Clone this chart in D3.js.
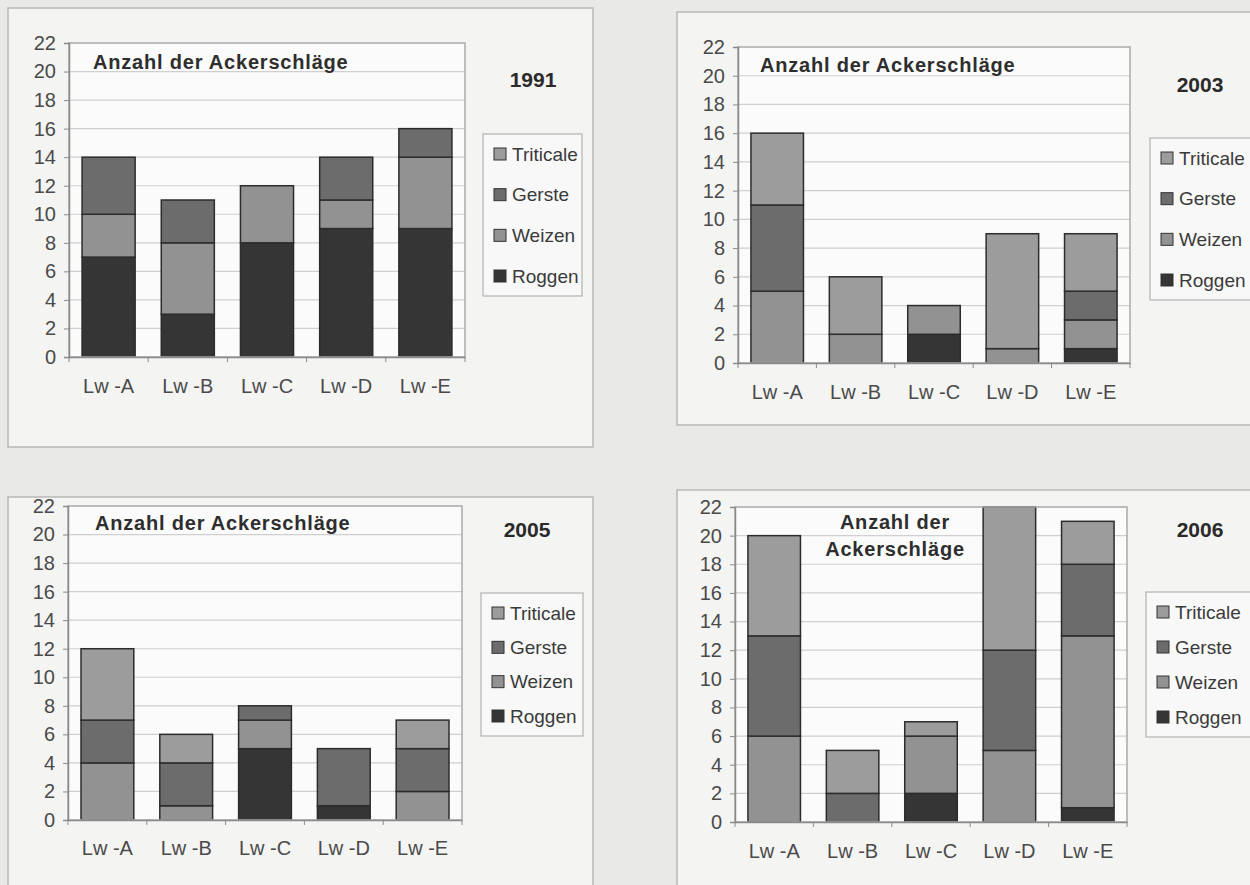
<!DOCTYPE html>
<html>
<head>
<meta charset="utf-8">
<script src="https://cdn.jsdelivr.net/npm/d3@7"></script>
<style>
  body { margin:0; background:#e9e9e7; }
  svg { display:block; font-family:"Liberation Sans", Arial, sans-serif; }
</style>
</head>
<body>
<svg id="chart" width="1250" height="885"></svg>
<script>
// Betriebe und Fruchtarten
var categories = ["Lw-A","Lw-B","Lw-C","Lw-D","Lw-E"];
var crops = ["Roggen","Weizen","Gerste","Triticale"];
var years = ["1991","2003","2005","2006"];
var yTicks = [0,2,4,6,8,10,12,14,16,18,20,22];

// Anzahl der Ackerschläge je Fruchtart (Reihen in Reihenfolge von crops)
var v1991 = [[7,3,8,9,9],[3,5,4,2,5],[4,3,0,3,2],[0,0,0,0,0]];
var v2003 = [[0,0,2,0,1],[5,2,2,1,2],[6,0,0,0,2],[5,4,0,8,4]];
var v2005 = [[0,0,5,1,0],[4,1,2,0,2],[3,3,1,4,3],[5,2,0,0,2]];
var v2006 = [[0,0,2,0,1],[6,0,4,5,12],[7,2,0,7,5],[7,3,1,10,3]];

var cropColor = {Roggen:"#353535", Weizen:"#929292", Gerste:"#6c6c6c", Triticale:"#9c9c9c"};

var svg = d3.select("#chart");

// Layout der vier Diagramme
var panels = [
  {vals:v1991, year:"1991", frame:[8,8,585,439], plot:[69,465,43,357], xlab:386,
   title:["Anzahl der Ackerschläge"], tx:93, ty:62, anchor:"start", yx:533, yy:80, leg:[483,134,99,162]},
  {vals:v2003, year:"2003", frame:[677,12,590,413], plot:[738,1130,47,363], xlab:392,
   title:["Anzahl der Ackerschläge"], tx:760, ty:65, anchor:"start", yx:1200, yy:85, leg:[1150,138,110,162]},
  {vals:v2005, year:"2005", frame:[8,497,585,400], plot:[68,462,506,820], xlab:848,
   title:["Anzahl der Ackerschläge"], tx:95, ty:523, anchor:"start", yx:527, yy:530, leg:[481,593,102,143]},
  {vals:v2006, year:"2006", frame:[677,490,590,400], plot:[735,1127,507,822], xlab:851,
   title:["Anzahl der","Ackerschläge"], tx:895, ty:522, anchor:"middle", yx:1200, yy:530, leg:[1146,592,110,145]}
];

panels.forEach(drawPanel);

function drawPanel(p){
  var g = svg.append("g");
  var L=p.plot[0], R=p.plot[1], T=p.plot[2], B=p.plot[3];

  g.append("rect")
    .attr("x",p.frame[0]).attr("y",p.frame[1])
    .attr("width",p.frame[2]).attr("height",p.frame[3])
    .attr("fill","#f4f4f3").attr("stroke","#b8b8b8").attr("stroke-width",1.5);

  var x = d3.scaleBand().domain(categories).range([L,R]).paddingInner(0.33).paddingOuter(0.165);
  var y = d3.scaleLinear().domain([0,22]).range([B,T]);

  // Zeichenfläche
  g.append("rect").attr("x",L).attr("y",T).attr("width",R-L).attr("height",B-T)
    .attr("fill","#fbfbfb");

  g.append("g").selectAll("line").data(yTicks.slice(1,-1)).enter().append("line")
    .attr("x1",L).attr("x2",R)
    .attr("y1",function(d){return y(d);}).attr("y2",function(d){return y(d);})
    .attr("stroke","#cfcfcf").attr("stroke-width",1.2);

  // gestapelte Balken
  var rows = categories.map(function(c,i){
    var r = {cat:c};
    crops.forEach(function(k,j){ r[k]=p.vals[j][i]; });
    return r;
  });
  var stack = d3.stack().keys(crops)(rows);

  g.append("g").selectAll("g").data(stack).enter().append("g")
    .attr("fill",function(d){return cropColor[d.key];})
    .selectAll("rect").data(function(d){return d.filter(function(s){return s[1]>s[0];});})
    .enter().append("rect")
    .attr("x",function(d){return x(d.data.cat);})
    .attr("y",function(d){return y(d[1]);})
    .attr("width",x.bandwidth())
    .attr("height",function(d){return y(d[0])-y(d[1]);})
    .attr("stroke","#2c2c2c").attr("stroke-width",1.5);

  g.append("rect").attr("x",L).attr("y",T).attr("width",R-L).attr("height",B-T)
    .attr("fill","none").attr("stroke","#a9a9a9").attr("stroke-width",1.5);

  // Achsen
  var ya = g.append("g").attr("transform","translate("+L+",0)")
    .call(d3.axisLeft(y).tickValues(yTicks).tickSize(5).tickPadding(8));
  var xa = g.append("g").attr("transform","translate(0,"+B+")")
    .call(d3.axisBottom(x).tickSize(0));
  [ya,xa].forEach(function(a){
    a.select(".domain").attr("stroke","#8a8a8a").attr("stroke-width",1.5);
    a.selectAll(".tick line").attr("stroke","#8a8a8a");
    a.selectAll("text").attr("fill","#4a4a4a").style("font-size","20px")
      .style("font-family","'Liberation Sans', Arial, sans-serif");
  });
  xa.selectAll(".tick text").attr("dy","0.35em").attr("y",p.xlab-B)
    .style("font-size","20px")
    .text(function(d){return d.replace("-"," -");});

  // Trennstriche zwischen den Kategorien
  g.append("g").selectAll("line").data(d3.range(categories.length+1)).enter().append("line")
    .attr("x1",function(i){return L+i*(R-L)/categories.length;})
    .attr("x2",function(i){return L+i*(R-L)/categories.length;})
    .attr("y1",B).attr("y2",B+5).attr("stroke","#8a8a8a");

  // Titel
  g.append("text").attr("x",p.tx).attr("y",p.ty).attr("text-anchor",p.anchor)
    .attr("fill","#2e2e2e").style("font-size","20px").style("font-weight","bold")
    .style("letter-spacing","0.8px")
    .selectAll("tspan").data(p.title).enter().append("tspan")
    .attr("x",p.tx).attr("dy",function(d,i){return i===0?"0.35em":"1.35em";})
    .text(function(d){return d;});

  g.append("text").attr("x",p.yx).attr("y",p.yy).attr("dy","0.35em").attr("text-anchor","middle")
    .attr("fill","#2a2a2a").style("font-size","21px").style("font-weight","bold").text(p.year);

  // Legende
  var lg = g.append("g");
  lg.append("rect").attr("x",p.leg[0]).attr("y",p.leg[1]).attr("width",p.leg[2]).attr("height",p.leg[3])
    .attr("fill","#f8f8f8").attr("stroke","#b3b3b3").attr("stroke-width",1.2);
  var legKeys = crops.slice().reverse();
  var ly = d3.scalePoint().domain(legKeys).range([p.leg[1]+20,p.leg[1]+p.leg[3]-20]);
  var items = lg.selectAll("g").data(legKeys).enter().append("g")
    .attr("transform",function(d){return "translate("+(p.leg[0]+11)+","+ly(d)+")";});
  items.append("rect").attr("x",0).attr("y",-6).attr("width",12).attr("height",12)
    .attr("fill",function(d){return cropColor[d];}).attr("stroke","#333").attr("stroke-width",1);
  items.append("text").attr("x",18).attr("dy","0.35em").attr("fill","#3a3a3a")
    .style("font-size","19px").text(function(d){return d;});
}
</script>
</body>
</html>
